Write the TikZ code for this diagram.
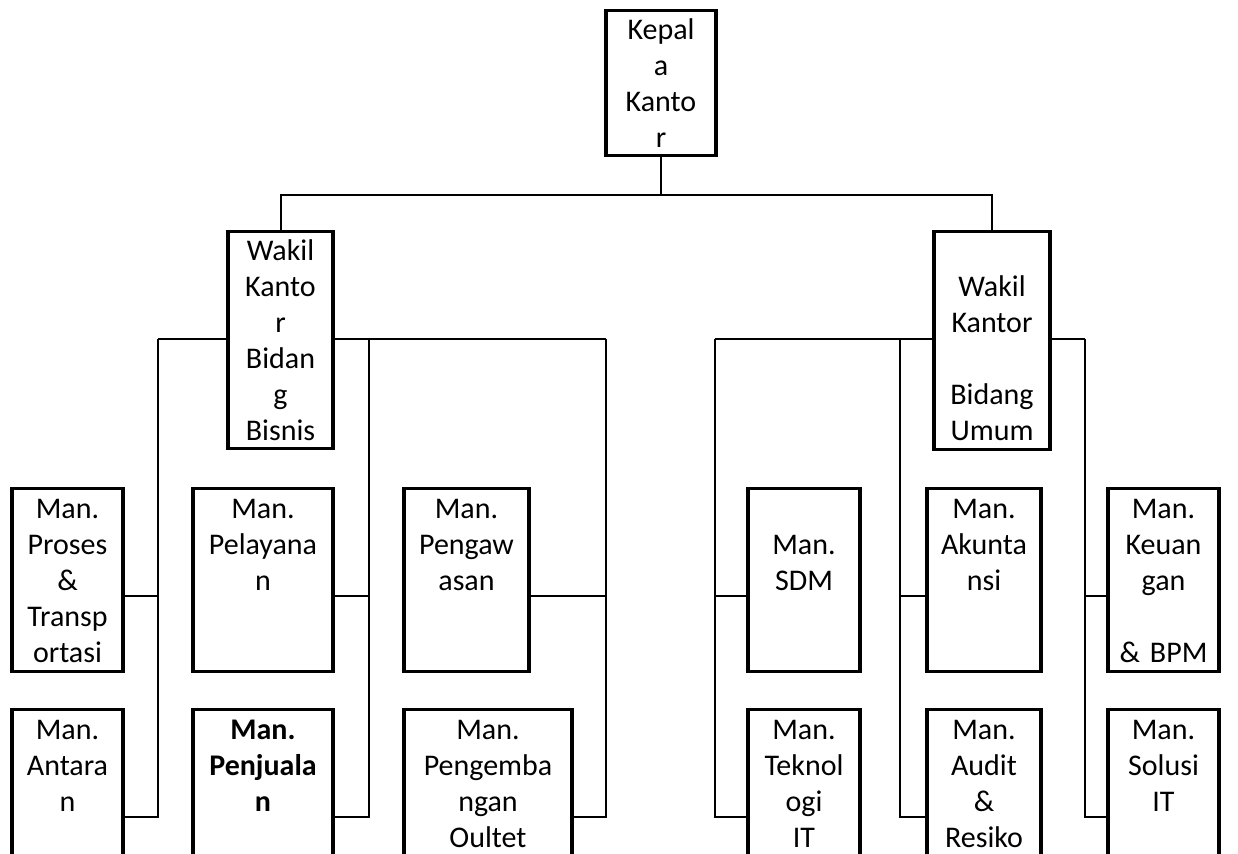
\documentclass[tikz,border=0pt]{standalone}
\usepackage{fontspec}
\setmainfont{Carlito}
\usetikzlibrary{calc,positioning}

\newcommand{\atas}{\rule{0pt}{14.1pt}}
\newcommand{\bawah}{\rule[-3.9pt]{0pt}{3.9pt}}

\tikzset{
  jabatan/.style={draw, line width=1.6pt, fill=white, inner sep=0pt, anchor=north, align=center, font=\fontsize{15}{18}\selectfont},
  garis/.style={line width=1pt}
}

\begin{document}
\begin{tikzpicture}[x=0.5pt,y=-0.5pt]
\path[use as bounding box, clip] (0,0) rectangle (1238,854);

% pimpinan
\node[jabatan, text width=55pt, minimum height=72.5pt] (kk) at (661,9) {\atas Kepal\\a\\Kanto\\r\bawah};
\node[jabatan, text width=52.5pt, minimum height=108.5pt] (wkb) at (280.5,230) {\atas Wakil\\Kanto\\r\\Bidan\\g\\Bisnis\bawah};
\node[jabatan, text width=58pt, minimum height=109pt] (wku) at (992,230) {\atas\mbox{}\\Wakil\\Kantor\\\mbox{}\\Bidang\\Umum\bawah};

% manajer bidang bisnis
\node[jabatan, text width=55.5pt, minimum height=91.5pt] (mpt) at (67.5,487) {\atas Man.\\Proses\\\&\\Transp\\ortasi\bawah};
\node[jabatan, text width=55.5pt, minimum height=91.5pt] (man) at (67.5,708) {\atas Man.\\Antara\\n\\\mbox{}\\\mbox{}\bawah};
\node[jabatan, text width=70pt, minimum height=91.5pt] (mpl) at (263,487) {\atas Man.\\Pelayana\\n\\\mbox{}\\\mbox{}\bawah};
\node[jabatan, text width=70pt, minimum height=91.5pt] (mpj) at (263,708) {\atas\bfseries Man.\\Penjuala\\n\\\mbox{}\\\mbox{}\bawah};
\node[jabatan, text width=62.5pt, minimum height=91.5pt] (mpw) at (466.5,487) {\atas Man.\\Pengaw\\asan\\\mbox{}\\\mbox{}\bawah};
\node[jabatan, text width=84pt, minimum height=91.5pt] (mpo) at (488,708) {\atas Man.\hspace*{11pt}\\Pengemba\\ngan\\Oultet\hspace*{22pt}\\\mbox{}\bawah};

% manajer bidang umum
\node[jabatan, text width=56pt, minimum height=91.5pt] (msd) at (804,487) {\atas\mbox{}\\Man.\\SDM\\\mbox{}\\\mbox{}\bawah};
\node[jabatan, text width=56pt, minimum height=91.5pt] (mti) at (804,708) {\atas Man.\\Teknol\\ogi\\IT\\\mbox{}\bawah};
\node[jabatan, text width=57pt, minimum height=91.5pt] (mak) at (984,487) {\atas Man.\\Akunta\\nsi\\\mbox{}\\\mbox{}\bawah};
\node[jabatan, text width=57pt, minimum height=91.5pt] (mar) at (984,708) {\atas Man.\\Audit\\\&\\Resiko\\\mbox{}\bawah};
\node[jabatan, text width=55.5pt, minimum height=91.5pt] (mku) at (1163.5,487) {\atas Man.\\Keuan\\gan\\\mbox{}\\\&~BPM\bawah};
\node[jabatan, text width=55.5pt, minimum height=91.5pt] (msi) at (1163.5,708) {\atas Man.\\Solusi\\IT\\\mbox{}\\\mbox{}\bawah};

% titik cabang
\coordinate (tb) at ($(kk.south)+(0,38)$);
\coordinate (lb1) at (158,339);
\coordinate (lb2) at (369,339);
\coordinate (lb3) at (606,339);
\coordinate (rb1) at (715,339);
\coordinate (rb2) at (900,339);
\coordinate (rb3) at (1085,339);

% garis hubung
\draw[garis] (kk.south) -- (kk.south |- tb);
\draw[garis] (wkb.north) |- (tb) -| (wku.north);
\draw[garis] (lb1) -- (lb1 -| wkb.west);
\draw[garis] (lb1 -| wkb.east) -- (lb3);
\draw[garis] (rb1) -- (rb1 -| wku.west);
\draw[garis] (rb1 -| wku.east) -- (rb3);

\draw[garis] ($(mpt.north east)+(0,109.5)$) -| (lb1);
\draw[garis] ($(man.north east)+(0,109.5)$) -| (lb1);
\draw[garis] ($(mpl.north east)+(0,109.5)$) -| (lb2);
\draw[garis] ($(mpj.north east)+(0,109.5)$) -| (lb2);
\draw[garis] ($(mpw.north east)+(0,109.5)$) -| (lb3);
\draw[garis] ($(mpo.north east)+(0,109.5)$) -| (lb3);
\draw[garis] ($(msd.north west)+(0,109.5)$) -| (rb1);
\draw[garis] ($(mti.north west)+(0,109.5)$) -| (rb1);
\draw[garis] ($(mak.north west)+(0,109.5)$) -| (rb2);
\draw[garis] ($(mar.north west)+(0,109.5)$) -| (rb2);
\draw[garis] ($(mku.north west)+(0,109.5)$) -| (rb3);
\draw[garis] ($(msi.north west)+(0,109.5)$) -| (rb3);

\end{tikzpicture}
\end{document}
